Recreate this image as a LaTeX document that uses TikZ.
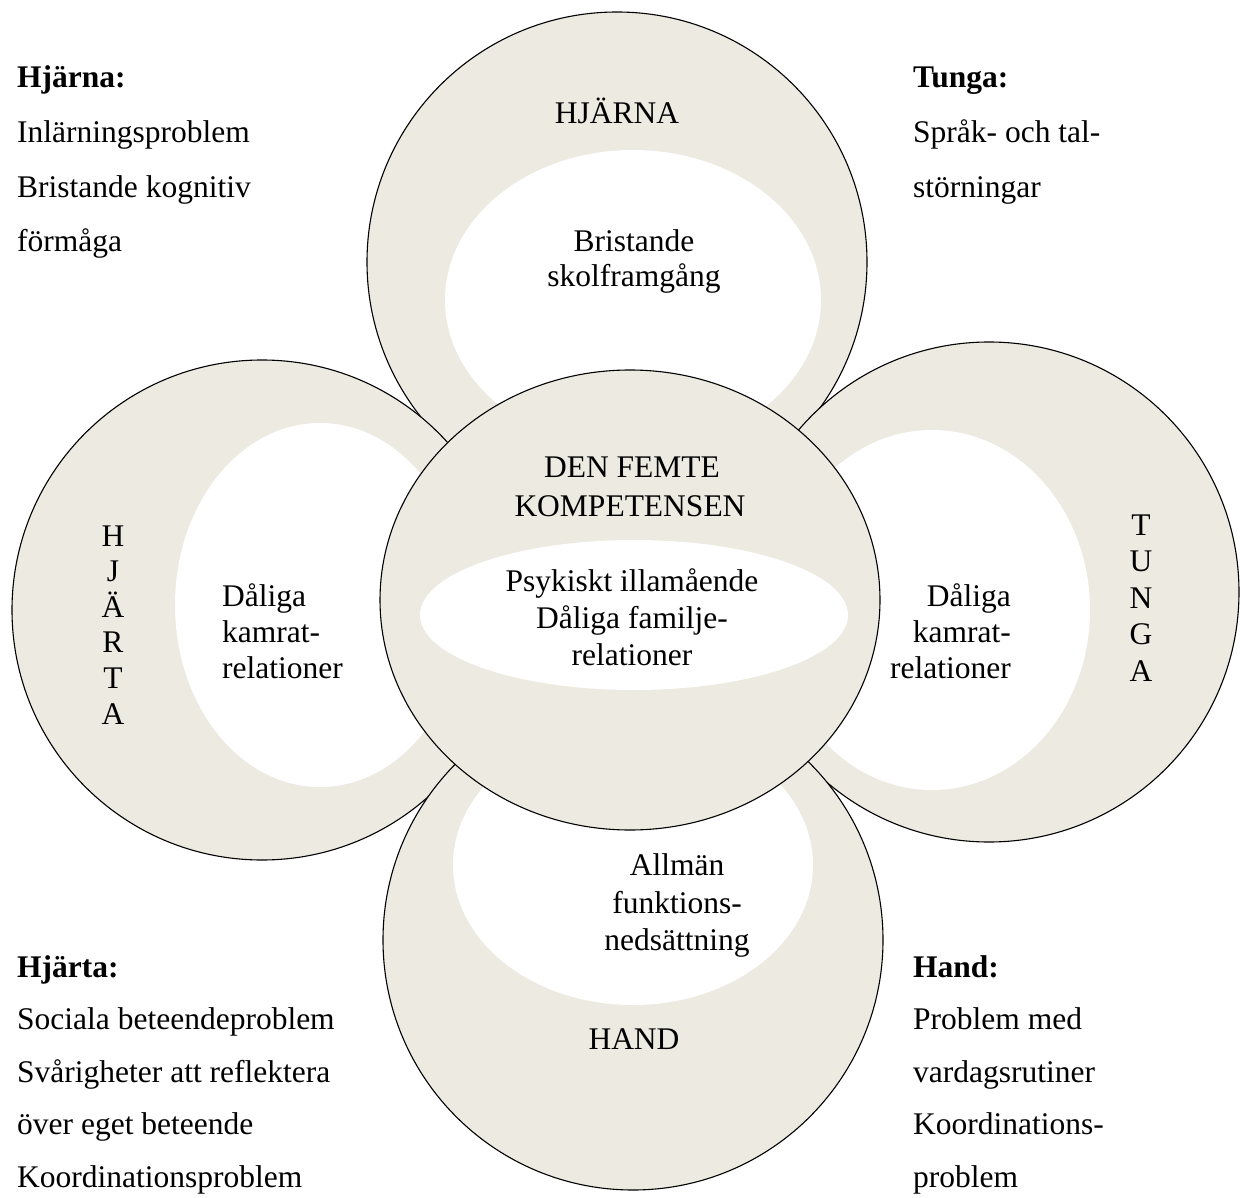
\documentclass[tikz,border=0pt]{standalone}
\usepackage{fontspec}
\setmainfont{Liberation Serif}
\definecolor{beige}{RGB}{236,234,225}
\begin{document}
\begin{tikzpicture}[x=1pt,y=-1pt,
  ring/.style={fill=beige,draw=black,line width=1.1pt},
  hole/.style={fill=white,draw=none},
  txt/.style={inner sep=0pt,font=\fontsize{31.5}{36}\selectfont},
  lab/.style={txt,anchor=base},
  sideL/.style={txt,anchor=base west},
  sideR/.style={txt,anchor=base east},
  head/.style={txt,anchor=base west,font=\fontsize{31.5}{36}\selectfont\bfseries}]
\useasboundingbox (0,0) rectangle (1240,1198);
% outer circles
\path[ring] (617,262) circle[radius=250];
\path[ring] (262,610) circle[radius=250];
\path[ring] (989,592) circle[radius=250];
\path[ring] (633,940) circle[radius=250];
% inner white holes
\path[hole] (633,300) ellipse[x radius=188,y radius=150];
\path[hole] (320,605) ellipse[x radius=145,y radius=182];
\path[hole] (932,610) ellipse[x radius=158,y radius=180];
\path[hole] (633,865) ellipse[x radius=180,y radius=140];
% centre
\path[ring] (630,600) ellipse[x radius=250,y radius=230];
\path[hole] (634,615) ellipse[x radius=214,y radius=75];
% top circle texts
\node[lab] (hjarnaT) at (617,124) {HJÄRNA};
\node[lab] (top1) at (634,252) {Bristande};
\node[lab] (top2) at (634,287) {skolframgång};
% centre texts
\node[lab] (c1) at (632,477) {DEN FEMTE};
\node[lab] (c2) at (630,516) {KOMPETENSEN};
\node[lab] (c3) at (632,591) {Psykiskt illamående};
\node[lab] (c4) at (632,628) {Dåliga familje-};
\node[lab] (c5) at (632,665) {relationer};
% left circle texts
\node[sideL] (l1) at (222,606) {Dåliga};
\node[sideL] (l2) at (222,642) {kamrat-};
\node[sideL] (l3) at (222,678) {relationer};
\node[lab] (lv1) at (113,546) {H};
\node[lab] (lv2) at (113,581.6) {J};
\node[lab] (lv3) at (113,617.2) {Ä};
\node[lab] (lv4) at (113,652.8) {R};
\node[lab] (lv5) at (113,688.4) {T};
\node[lab] (lv6) at (113,724) {A};
% right circle texts
\node[sideR] (r1) at (1011,606) {Dåliga};
\node[sideR] (r2) at (1011,642) {kamrat-};
\node[sideR] (r3) at (1011,678) {relationer};
\node[lab] (rv1) at (1141,535) {T};
\node[lab] (rv2) at (1141,571.5) {U};
\node[lab] (rv3) at (1141,608) {N};
\node[lab] (rv4) at (1141,644.5) {G};
\node[lab] (rv5) at (1141,681) {A};
% bottom circle texts
\node[lab] (b1) at (677,875) {Allmän};
\node[lab] (b2) at (677,913) {funktions-};
\node[lab] (b3) at (677,950) {nedsättning};
\node[lab] (handT) at (634,1049) {HAND};
% corner texts
\node[head] (tlh) at (17,88) {Hjärna:};
\node[sideL] (tl1) at (17,143) {Inlärningsproblem};
\node[sideL] (tl2) at (17,198) {Bristande kognitiv};
\node[sideL] (tl3) at (17,252) {förmåga};
\node[head] (trh) at (913,88) {Tunga:};
\node[sideL] (tr1) at (913,143) {Språk- och tal-};
\node[sideL] (tr2) at (913,198) {störningar};
\node[head] (blh) at (17,977) {Hjärta:};
\node[sideL] (bl1) at (17,1029.5) {Sociala beteendeproblem};
\node[sideL] (bl2) at (17,1082) {Svårigheter att reflektera};
\node[sideL] (bl3) at (17,1134.5) {över eget beteende};
\node[sideL] (bl4) at (17,1187) {Koordinationsproblem};
\node[head] (brh) at (913,977) {Hand:};
\node[sideL] (br1) at (913,1029.5) {Problem med};
\node[sideL] (br2) at (913,1082) {vardagsrutiner};
\node[sideL] (br3) at (913,1134.5) {Koordinations-};
\node[sideL] (br4) at (913,1187) {problem};
\end{tikzpicture}
\end{document}
